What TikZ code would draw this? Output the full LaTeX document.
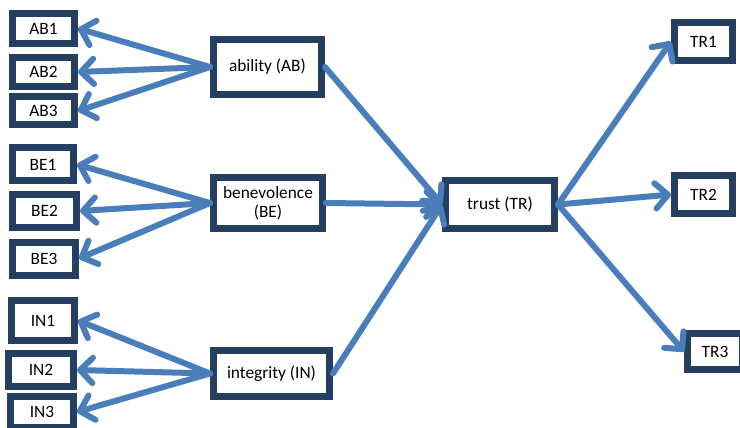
\documentclass[tikz,border=0pt]{standalone}
\usepackage{fontspec}
\setmainfont{Carlito}
\usetikzlibrary{arrows.meta}
\definecolor{boxnavy}{HTML}{243F60}
\definecolor{arrowblue}{HTML}{4A7EBB}

\begin{document}
\begin{tikzpicture}[x=0.75pt, y=-0.75pt,
    box/.style={rectangle, draw=boxnavy, line width=5.25pt, fill=white,
    inner sep=0pt, align=center, font=\fontsize{13}{14}\selectfont},
    >={Straight Barb[round, length=9.5pt, width=19pt]},
    link/.style={->, draw=arrowblue, line width=4.5pt, line cap=round}]

  \useasboundingbox (0,0) rectangle (740,428);

  \node[box, minimum width=46.5pt, minimum height=22.5pt] (AB1) at (43.5,28.5) {AB1};
  \node[box, minimum width=46.5pt, minimum height=21.75pt] (AB2) at (43.5,72) {AB2};
  \node[box, minimum width=46.5pt, minimum height=21pt] (AB3) at (43.5,111) {AB3};
  \node[box, minimum width=81pt, minimum height=41.25pt] (AB) at (267.5,67) {ability (AB)};

  \node[box, minimum width=45.75pt, minimum height=24.75pt] (BE1) at (43,164.5) {BE1};
  \node[box, minimum width=48pt, minimum height=24.75pt] (BE2) at (44.5,211) {BE2};
  \node[box, minimum width=47.25pt, minimum height=24.75pt] (BE3) at (44,258.5) {BE3};
  \node[box, minimum width=81.75pt, minimum height=38.25pt] (BE) at (268,203) {benevolence\\(BE)};

  \node[box, minimum width=47.25pt, minimum height=30pt] (IN1) at (43,320.5) {IN1};
  \node[box, minimum width=48.75pt, minimum height=24.75pt] (IN2) at (41,370) {IN2};
  \node[box, minimum width=47.25pt, minimum height=23.25pt] (IN3) at (42,412) {IN3};
  \node[box, minimum width=87pt, minimum height=34.5pt] (IN) at (271.5,373.5) {integrity (IN)};

  \node[box, minimum width=81.75pt, minimum height=36pt] (TR) at (500,204.5) {trust (TR)};
  \node[box, minimum width=43.5pt, minimum height=28.5pt] (TR1) at (703.5,41.5) {TR1};
  \node[box, minimum width=43.5pt, minimum height=28.5pt] (TR2) at (703.5,194.5) {TR2};
  \node[box, minimum width=41.25pt, minimum height=27pt] (TR3) at (715,351.5) {TR3};

  \draw[link] (AB.west) -- (AB1.east);
  \draw[link] (AB.west) -- (AB2.east);
  \draw[link] (AB.west) -- (AB3.east);
  \draw[link] (BE.west) -- (BE1.east);
  \draw[link] (BE.west) -- (BE2.east);
  \draw[link] (BE.west) -- (BE3.east);
  \draw[link] (IN.west) -- (IN1.east);
  \draw[link] (IN.west) -- (IN2.east);
  \draw[link] (IN.west) -- (IN3.east);

  \draw[link] (AB.east) -- (TR.west);
  \draw[link] (BE.east) -- (TR.west);
  \draw[link] (IN.east) -- (TR.west);

  \draw[link] (TR.east) -- (TR1.west);
  \draw[link] (TR.east) -- (TR2.west);
  \draw[link] (TR.east) -- (TR3.west);
\end{tikzpicture}
\end{document}
